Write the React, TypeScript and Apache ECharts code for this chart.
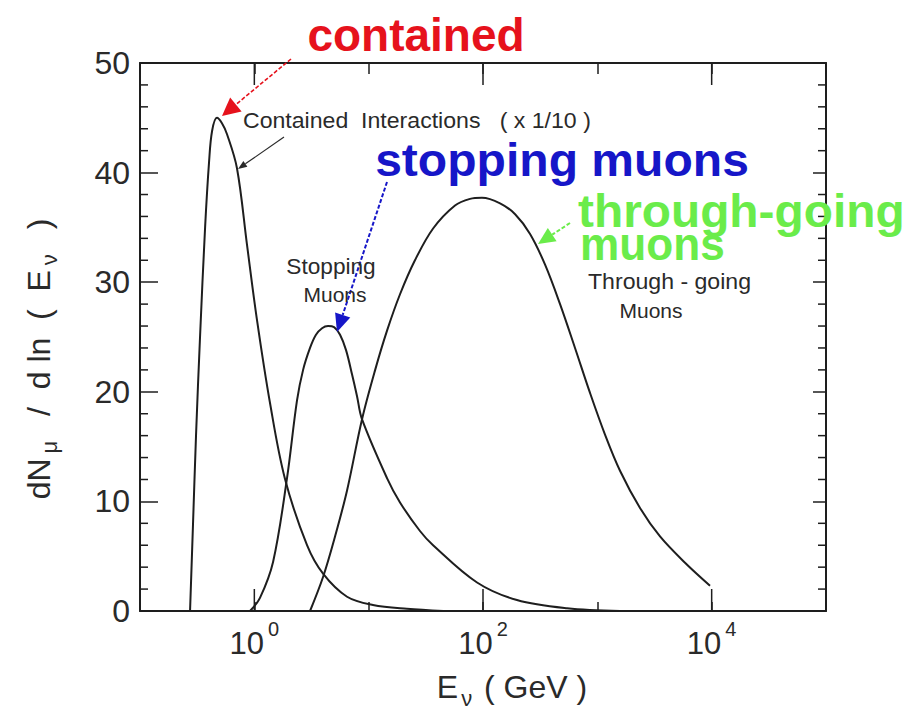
import React, { useEffect, useRef } from "react";
import * as echarts from "echarts";

// Neutrino energy (GeV) and event rate dN/d ln(E) for each event class
const containedE = [0.274, 0.291, 0.309, 0.335, 0.371, 0.402, 0.427, 0.471, 0.521, 0.577, 0.705, 0.863, 1.05, 1.37, 1.85, 2.89, 3.99, 6.47, 10.9, 21.6, 45];
const containedN = [0, 8, 16, 25, 35, 41, 43.8, 45, 44.5, 43.5, 40.4, 33.4, 26.7, 19, 12.1, 6.0, 3.4, 1.3, 0.55, 0.2, 0];

const stoppingE = [0.916, 1.12, 1.46, 1.93, 2.36, 2.67, 3.07, 3.46, 3.91, 4.41, 4.98, 5.62, 6.34, 7.15, 7.91, 8.74, 14.5, 18.8, 28.1, 36.6, 88.7, 198, 544, 1580];
const stoppingN = [0, 1.2, 4.5, 12.1, 19.2, 22.0, 24.0, 25.2, 25.8, 26.0, 25.9, 25.2, 23.8, 21.6, 19.6, 17.5, 12.1, 9.9, 7.3, 6.0, 2.6, 1.0, 0.25, 0];

const throughE = [3.07, 3.99, 5.08, 6.47, 8.75, 11.4, 14.5, 18.8, 25.4, 36.6, 56.9, 77.0, 97.9, 141, 191, 258, 349, 472, 638, 863, 1167, 1579, 2362, 3534, 5847, 9672];
const throughN = [0, 3.1, 6.8, 11.0, 17.5, 22.0, 25.6, 28.9, 32.0, 34.9, 37.0, 37.6, 37.7, 37.2, 36.2, 34.4, 31.6, 28.0, 24.0, 19.9, 16.1, 12.8, 9.4, 6.8, 4.4, 2.3];

// Decades that carry a label and a long tick
const labeledDecades = [0, 2, 4];
// Minor tick step on the rate axis
const minorStep = 2;

const FONT = "'Liberation Sans', Arial, Helvetica, sans-serif";
const INK = "#1e1e1e";
const TEXT = "#2a2a2a";

const pair = (xs: number[], ys: number[]) => xs.map((x, i) => [x, ys[i]]);

function arrow(
  x1: number, y1: number, x2: number, y2: number,
  color: string, lw: number, headLen: number, headHalf: number, dash?: number[]
) {
  const dx = x2 - x1, dy = y2 - y1;
  const L = Math.hypot(dx, dy);
  const ux = dx / L, uy = dy / L;
  const bx = x2 - ux * headLen, by = y2 - uy * headLen;
  const px = -uy, py = ux;
  return [
    { type: "line", silent: true, z: 50, shape: { x1, y1, x2: bx, y2: by }, style: { stroke: color, lineWidth: lw, lineDash: dash } },
    {
      type: "polygon", silent: true, z: 50,
      shape: { points: [[x2, y2], [bx + px * headHalf, by + py * headHalf], [bx - px * headHalf, by - py * headHalf]] },
      style: { fill: color },
    },
  ];
}

function label(text: string, x: number, y: number, size: number, color: string, align = "center", weight = "normal", sx = 1) {
  return {
    type: "text", silent: true, z: 60, x, y, scaleX: sx,
    style: { text, fill: color, fontSize: size, fontFamily: FONT, fontWeight: weight, textAlign: align, textVerticalAlign: "middle" },
  };
}

export default function App() {
  const ref = useRef<HTMLDivElement>(null);

  useEffect(() => {
    if (!ref.current) return;
    const chart = echarts.init(ref.current, undefined, { renderer: "svg" });

    const frameLine = { show: true, onZero: false, lineStyle: { color: INK, width: 2 } };
    const tickStyle = { color: INK, width: 1.5 };

    const baseX = {
      type: "log", logBase: 10, min: 0.1, max: 100000, splitNumber: 6,
      splitLine: { show: false }, minorTick: { show: false }, minorSplitLine: { show: false },
      axisLine: frameLine,
    };
    const baseY = {
      type: "value", min: 0, max: 50, interval: 10,
      splitLine: { show: false }, axisLine: frameLine,
    };

    const nameMain = { fontSize: 32, color: TEXT, fontFamily: FONT, verticalAlign: "top" };
    const nameSub = { fontSize: 22, color: TEXT, fontFamily: FONT, verticalAlign: "bottom" };

    chart.setOption({
      animation: false,
      backgroundColor: "#ffffff",
      textStyle: { fontFamily: FONT },
      grid: { left: 140, right: 78, top: 63, bottom: 102, containLabel: false },
      xAxis: [
        {
          ...baseX,
          position: "bottom",
          axisTick: { inside: true, length: 9, lineStyle: tickStyle },
          axisLabel: {
            margin: 8,
            showMinLabel: true, showMaxLabel: true,
            formatter: (v: number) => {
              const e = Math.round(Math.log10(v));
              return labeledDecades.includes(e) ? `{b|10}{s|${e}}` : "";
            },
            rich: {
              b: { fontSize: 31, color: TEXT, fontFamily: FONT, verticalAlign: "bottom", padding: [9, 0, 0, 0] },
              s: { fontSize: 20, color: TEXT, fontFamily: FONT, verticalAlign: "top", padding: [0, 0, 0, 4] },
            },
          },
          name: "{lead|E}{sub|ν}{m| ( GeV )}",
          nameLocation: "middle",
          nameGap: 60,
          nameTextStyle: {
            rich: {
              lead: { ...nameMain, padding: [0, 0, 0, 58] },
              m: nameMain,
              sub: { ...nameSub, padding: [16, 3, 0, 3] },
            },
          },
        },
        {
          ...baseX,
          position: "top",
          axisTick: { inside: true, length: 11, lineStyle: tickStyle },
          axisLabel: { show: false },
        },
      ],
      yAxis: [
        {
          ...baseY,
          position: "left",
          axisTick: { inside: true, length: 18, lineStyle: tickStyle },
          axisLabel: { fontSize: 32, color: TEXT, fontFamily: FONT, margin: 10 },
          name: "{m|dN}{sub|μ}{m|  /  d ln  (  E}{sub|ν}{tail|  )}",
          nameLocation: "middle",
          nameGap: 80,
          nameRotate: 90,
          nameTextStyle: {
            rich: {
              m: nameMain,
              tail: { ...nameMain, padding: [0, 44, 0, 0] },
              sub: { ...nameSub, padding: [15, 7, 0, 5] },
            },
          },
        },
        {
          ...baseY,
          position: "right",
          axisTick: { inside: true, length: 13, lineStyle: tickStyle },
          axisLabel: { show: false },
        },
      ],
      series: [
        { name: "Contained Interactions", data: pair(containedE, containedN) },
        { name: "Stopping Muons", data: pair(stoppingE, stoppingN) },
        { name: "Through-going Muons", data: pair(throughE, throughN) },
      ].map((s) => ({
        ...s,
        type: "line",
        xAxisIndex: 0,
        yAxisIndex: 0,
        smooth: 0.35,
        showSymbol: false,
        silent: true,
        z: 5,
        lineStyle: { color: INK, width: 2 },
      })),
    });

    const ticks: any[] = [];
    const tick = (x1: number, y1: number, x2: number, y2: number) =>
      ticks.push({ type: "line", silent: true, z: 40, shape: { x1, y1, x2, y2 }, style: { stroke: INK, lineWidth: 1.5 } });

    // Long ticks at the labelled decades, on the bottom and top frame edges
    const yBottom = chart.convertToPixel({ yAxisIndex: 0 }, 0) as number;
    const yTop = chart.convertToPixel({ yAxisIndex: 0 }, 50) as number;
    labeledDecades.forEach((e) => {
      const x = chart.convertToPixel({ xAxisIndex: 0 }, Math.pow(10, e)) as number;
      tick(x, yBottom, x, yBottom - 22);
      tick(x, yTop, x, yTop + 22);
    });

    // Minor ticks on both rate axes
    const xLeft = chart.convertToPixel({ xAxisIndex: 0 }, 0.1) as number;
    const xRight = chart.convertToPixel({ xAxisIndex: 0 }, 100000) as number;
    for (let v = minorStep; v < 50; v += minorStep) {
      if (v % 10 === 0) continue;
      const y = chart.convertToPixel({ yAxisIndex: 0 }, v) as number;
      tick(xLeft, y, xLeft + 8, y);
      tick(xRight, y, xRight - 8, y);
    }

    const RED = "#e6121c";
    const BLUE = "#1616c8";
    const GREEN = "#6aec4a";

    chart.setOption({
      graphic: [
        ...ticks,
        // Small labels on the curves
        label("Contained  Interactions   ( x 1/10 )", 243, 121, 22, TEXT, "left", "normal", 1.05),
        label("Stopping", 331, 267, 22, TEXT, "center", "normal", 1.03),
        label("Muons", 335, 294, 21, TEXT),
        label("Through - going", 588, 282, 22, TEXT, "left", "normal", 1.05),
        label("Muons", 651, 310, 21, TEXT),
        ...arrow(284, 137, 238, 169, TEXT, 1.2, 9, 3.5),
        // Coloured call-outs
        label("contained", 416, 35, 46, RED, "center", "bold"),
        ...arrow(291, 59, 222, 116, RED, 1.6, 18, 9, [4, 2]),
        label("stopping muons", 562, 160, 46, BLUE, "center", "bold", 1.045),
        ...arrow(387, 182, 337, 332, BLUE, 2, 18, 8, [4, 2]),
        label("through-going", 578, 211, 46, GREEN, "left", "bold", 1.04),
        label("muons", 580, 244, 46, GREEN, "left", "bold", 0.96),
        ...arrow(570, 223, 538, 244, GREEN, 2, 17, 8, [4, 2]),
      ],
    });

    return () => chart.dispose();
  }, []);

  return <div ref={ref} style={{ position: "absolute", left: 0, top: 0, width: 904, height: 714 }} />;
}
